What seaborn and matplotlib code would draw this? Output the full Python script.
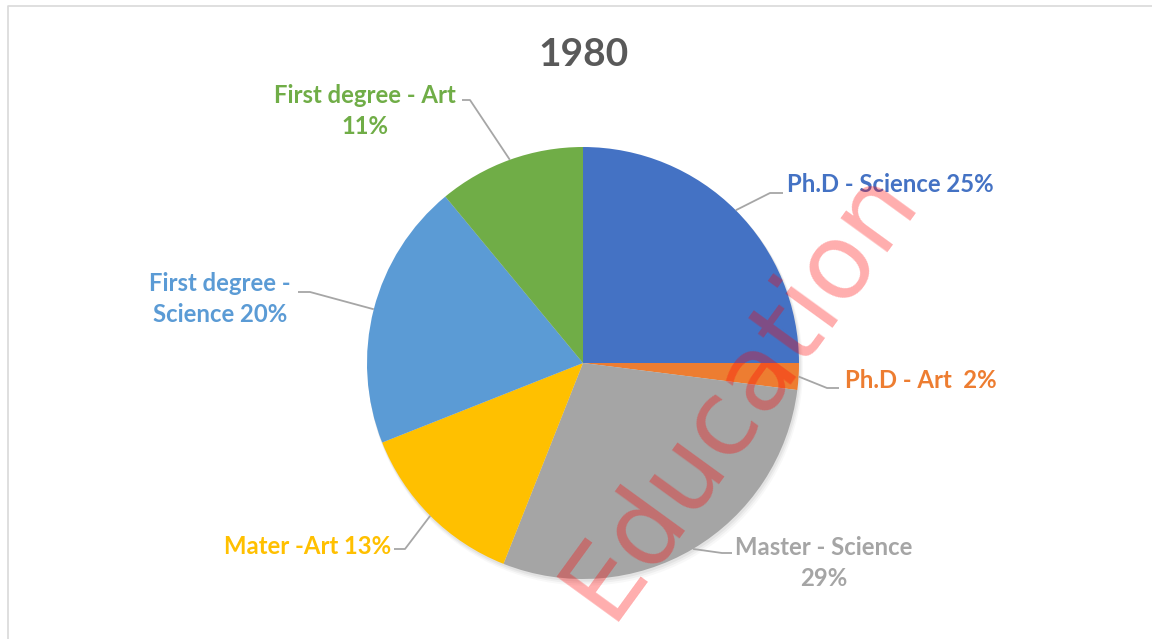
import numpy as np
import matplotlib
matplotlib.use("Agg")
import matplotlib.pyplot as plt
import seaborn as sns

# data
categories = ["Ph.D - Science", "Ph.D - Art", "Master - Science",
              "Mater -Art", "First degree - Science", "First degree - Art"]
shares = [25, 2, 29, 13, 20, 11]
label_texts = ["Ph.D - Science 25%", "Ph.D - Art  2%", "Master - Science\n29%",
               "Mater -Art 13%", "First degree -\nScience 20%", "First degree - Art\n11%"]
colors = ["#4472C4", "#ED7D31", "#A5A5A5", "#FFC000", "#5B9BD5", "#70AD47"]
label_colors = ["#4472C4", "#ED7D31", "#A5A5A5", "#FFC000", "#5B9BD5", "#70AD47"]

sns.set_theme(style="white")
plt.rcParams['font.family'] = ['Lato', 'DejaVu Sans']

W, H = 1152, 639
fig = plt.figure(figsize=(W / 100, H / 100), dpi=100)
ax = fig.add_axes([0, 0, 1, 1])

cx, cy, r = 583, H - 363, 216

# soft shadow
for k, a in [(5, 0.05), (3.5, 0.08), (2, 0.1)]:
    ax.add_patch(plt.Circle((cx + k * 0.5, cy - k), r + k * 0.3, color="#7F7F7F",
                            alpha=a, lw=0, zorder=1))

wedges, _ = ax.pie(shares, colors=colors, startangle=90, counterclock=False,
                   center=(cx, cy), radius=r, frame=True,
                   wedgeprops=dict(linewidth=0, zorder=2))
ax.set_xlim(0, W)
ax.set_ylim(0, H)
ax.axis('off')

# frame around the chart area
ax.plot([8, 8, W + 5], [-5, H - 6, H - 6], color="#D9D9D9", lw=1.2)

# label layout: (elbow, end of horizontal, text pos, ha)
layout = [
    ((770, H - 193), (783, H - 193), (787, H - 185), 'left'),
    ((827, H - 388), (839, H - 388), (845, H - 380), 'left'),
    ((722, H - 553), (732, H - 553), (824, H - 563), 'center'),
    ((405, H - 549), (394, H - 549), (391, H - 546), 'right'),
    ((310, H - 292), (298, H - 292), (220, H - 299), 'center'),
    ((470, H - 100), (462, H - 100), (365, H - 111), 'center'),
]

for w, txt, col, (elbow, end, tpos, ha) in zip(wedges, label_texts, label_colors, layout):
    mid = np.deg2rad((w.theta1 + w.theta2) / 2)
    ex, ey = cx + r * np.cos(mid), cy + r * np.sin(mid)
    ax.plot([ex, elbow[0], end[0]], [ey, elbow[1], end[1]], color="#A6A6A6",
            lw=1.3, zorder=3, solid_capstyle='butt')
    ax.text(tpos[0], tpos[1], txt, ha=ha, va='center', color=col,
            fontsize=17.2, fontweight='bold', linespacing=1.4, zorder=4)

ax.text(W / 2 + 8, H - 54, "1980", ha='center', va='center', color="#595959",
        fontsize=28, fontweight='bold')

# watermark
ax.text(740, H - 392, "Education", rotation=54, ha='center', va='center',
        color="red", alpha=0.32, fontsize=76, family='DejaVu Sans', zorder=5)

fig.savefig("out.png", dpi=100)
